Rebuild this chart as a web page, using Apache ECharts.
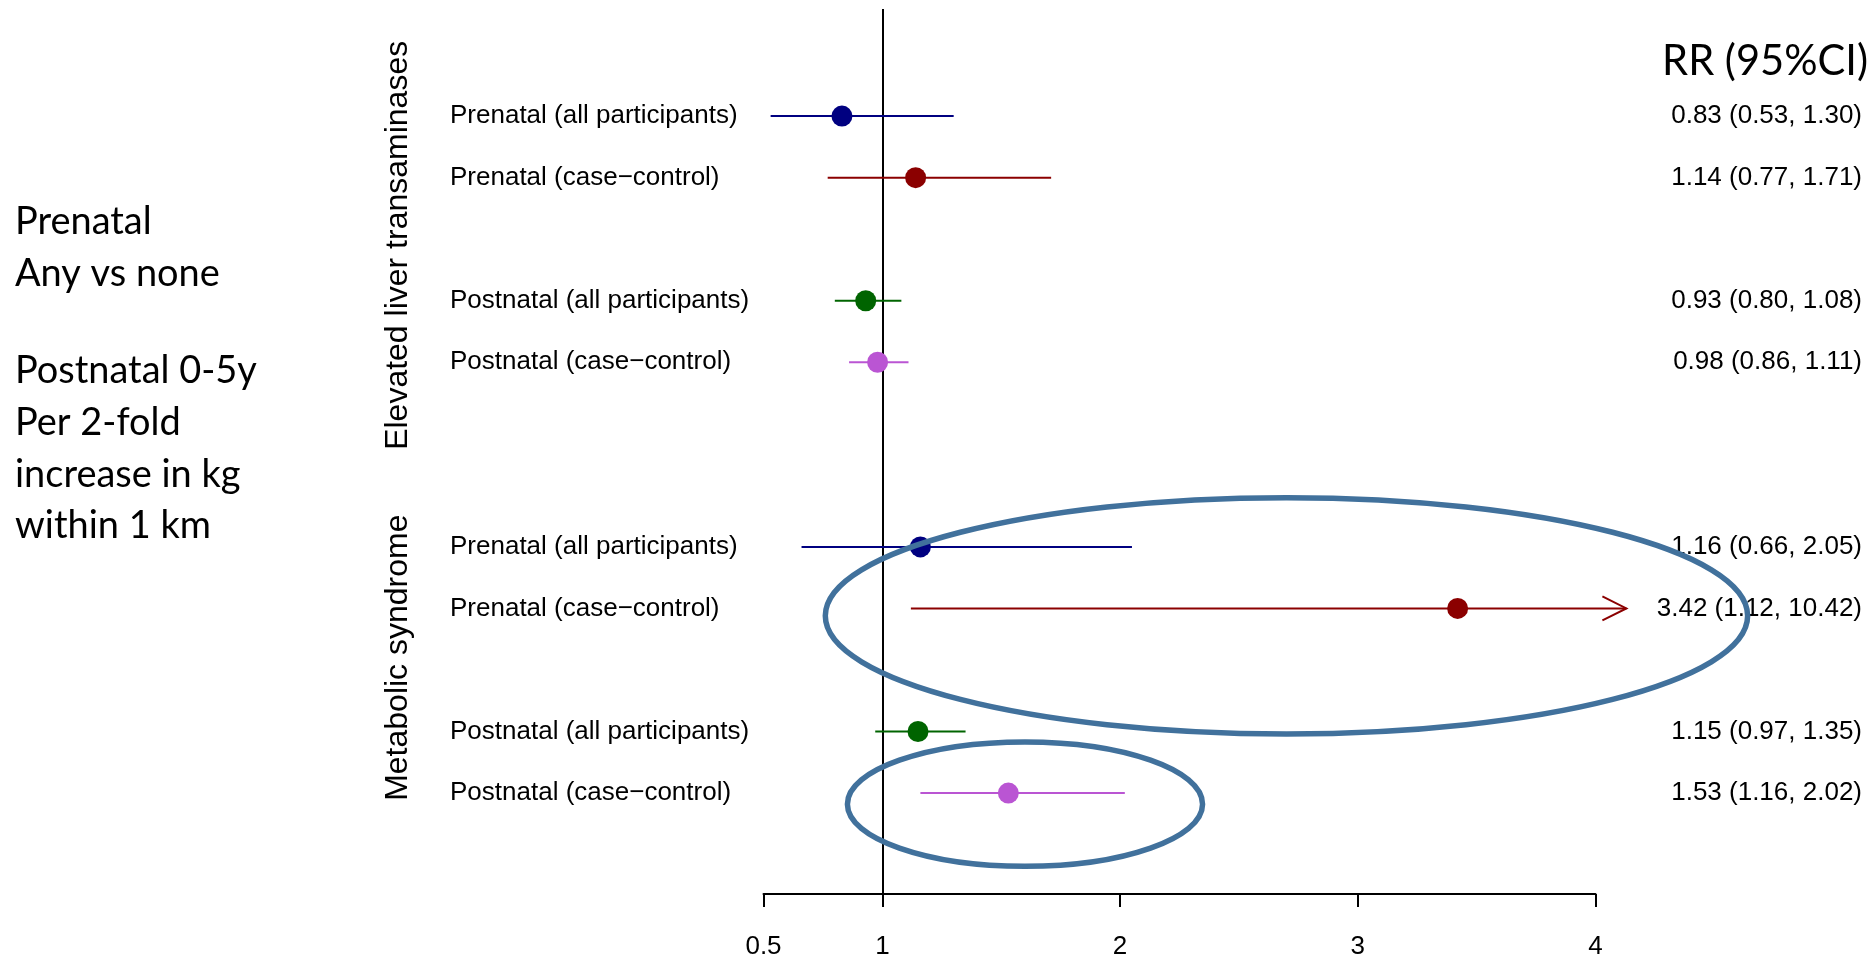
<!DOCTYPE html>
<html>
<head>
<meta charset="utf-8">
<script src="https://cdn.jsdelivr.net/npm/echarts@6/dist/echarts.min.js"></script>
<style>
html,body{margin:0;padding:0;background:#fff;}
#chart{width:1875px;height:962px;}
</style>
</head>
<body>
<div id="chart"></div>
<script>
// ---- data ----
const rowLabels = [
  'Prenatal (all participants)', 'Prenatal (case\u2212control)',
  'Postnatal (all participants)', 'Postnatal (case\u2212control)',
  'Prenatal (all participants)', 'Prenatal (case\u2212control)',
  'Postnatal (all participants)', 'Postnatal (case\u2212control)'
];
const rowSlots = [0, 1, 3, 4, 7, 8, 10, 11];
const rrValues = [0.83, 1.14, 0.93, 0.98, 1.16, 3.42, 1.15, 1.53];
const ciLower  = [0.53, 0.77, 0.80, 0.86, 0.66, 1.12, 0.97, 1.16];
const ciUpper  = [1.30, 1.71, 1.08, 1.11, 2.05, 10.42, 1.35, 2.02];
const groupLabels = ['Elevated liver transaminases', 'Metabolic syndrome'];
const groupCenters = [2.1, 8.8];           // in row-slot units
const xTicks = [0.5, 1, 2, 3, 4];
const xMin = 0.5, xMax = 4;
const ciClip = 4.13;                         // arrow end for CI beyond axis
const refValue = 1;
const headerText = 'RR (95%CI)';
const sideTextTop = ['Prenatal', 'Any vs none'];
const sideTextBottom = ['Postnatal 0-5y', 'Per 2-fold', 'increase in kg', 'within 1 km'];
// annotation ellipses in data units: [centerX, centerSlot, radiusX, radiusSlots]
const ellipses = [[2.70, 8.12, 1.94, 1.92], [1.60, 11.18, 0.747, 1.01]];

// ---- styles ----
const rowColors = ['#000080', '#8B0000', '#006400', '#BA55D3', '#000080', '#8B0000', '#006400', '#BA55D3'];
const ARIAL = "'Liberation Sans', Arial, sans-serif";
const CAL = "Lato, 'Open Sans', sans-serif";

function fitSize(text, family, target) {
  const c = document.createElement('canvas').getContext('2d');
  c.font = '100px ' + family;
  return 100 * target / c.measureText(text).width;
}
const sideSize = fitSize('Postnatal 0-5y', CAL, 242);
const headSize = fitSize(headerText, CAL, 206);

const chart = echarts.init(document.getElementById('chart'), null, {renderer: 'canvas'});

const seriesData = rrValues.map((v, i) => [v, rowSlots[i], ciLower[i], ciUpper[i], i]);
const fmt = v => v.toFixed(2);

function renderItem(params, api) {
  const i = api.value(4);
  const slot = api.value(1);
  const color = rowColors[i];
  const lo = Math.max(api.value(2), xMin);
  const clipped = api.value(3) > xMax;
  const hi = clipped ? ciClip : api.value(3);
  const p = api.coord([api.value(0), slot]);
  const pl = api.coord([lo, slot]);
  const ph = api.coord([hi, slot]);
  const children = [
    {type: 'line', shape: {x1: pl[0], y1: pl[1], x2: ph[0], y2: ph[1]}, style: {stroke: color, lineWidth: 2}},
    {type: 'circle', shape: {cx: p[0], cy: p[1], r: 10.5}, style: {fill: color}},
    {type: 'text', x: 450, y: p[1], style: {text: rowLabels[i], fontSize: 26, fontFamily: ARIAL, fill: '#000', align: 'left', verticalAlign: 'middle'}},
    {type: 'text', x: 1862, y: p[1], style: {text: fmt(rrValues[i]) + ' (' + fmt(ciLower[i]) + ', ' + fmt(ciUpper[i]) + ')', fontSize: 26, fontFamily: ARIAL, fill: '#000', align: 'right', verticalAlign: 'middle'}}
  ];
  if (clipped) {
    children.push({type: 'polyline', shape: {points: [[ph[0] - 24, ph[1] - 12], [ph[0], ph[1]], [ph[0] - 24, ph[1] + 12]]}, style: {stroke: color, lineWidth: 2, fill: null}});
  }
  return {type: 'group', children};
}

const option = {
  animation: false,
  grid: {left: 763.5, right: 279.5, top: 9, bottom: 68},
  xAxis: {
    type: 'value', min: xMin, max: xMax,
    axisLine: {show: true, onZero: false, lineStyle: {color: '#000', width: 2}},
    axisTick: {show: true, length: 13, lineStyle: {color: '#000', width: 2}, customValues: xTicks},
    axisLabel: {fontSize: 26, fontFamily: ARIAL, color: '#000', margin: 40, customValues: xTicks, formatter: v => String(v)},
    splitLine: {show: false}
  },
  yAxis: {type: 'value', inverse: true, min: -1.74, max: 12.64, show: false},
  series: [{
    type: 'line',
    data: [],
    z: 1,
    markLine: {
      silent: true, symbol: 'none', animation: false,
      label: {show: false},
      lineStyle: {color: '#000', width: 2, type: 'solid'},
      data: [{xAxis: refValue}]
    }
  }, {
    type: 'custom',
    z: 5,
    clip: false,
    renderItem,
    data: seriesData,
    encode: {x: 0, y: 1}
  }]
};
chart.setOption(option);

function buildGraphics() {
  const g = [];
  ellipses.forEach(e => {
    const c = chart.convertToPixel({gridIndex: 0}, [e[0], e[1]]);
    const ex = chart.convertToPixel({gridIndex: 0}, [e[0] + e[2], e[1] + e[3]]);
    g.push({type: 'ellipse', shape: {cx: c[0], cy: c[1], rx: Math.abs(ex[0] - c[0]), ry: Math.abs(ex[1] - c[1])},
      style: {fill: null, stroke: '#41719C', lineWidth: 5.5}, z: 10});
  });
  groupLabels.forEach((t, k) => {
    const y = chart.convertToPixel({gridIndex: 0}, [1, groupCenters[k]])[1];
    g.push({type: 'text', x: 398, y: y, rotation: Math.PI / 2,
      style: {text: t, fontSize: 32, fontFamily: ARIAL, fill: '#000', align: 'center', verticalAlign: 'middle'}});
  });
  g.push({type: 'text', x: 1868, y: 62, style: {text: headerText, fontSize: headSize, fontFamily: CAL, fill: '#000', align: 'right', verticalAlign: 'middle'}});
  sideTextTop.forEach((t, k) => g.push({type: 'text', x: 15, y: 222 + k * 52,
    style: {text: t, fontSize: sideSize, fontFamily: CAL, fill: '#000', align: 'left', verticalAlign: 'middle'}}));
  sideTextBottom.forEach((t, k) => g.push({type: 'text', x: 15, y: 371 + k * 51.7,
    style: {text: t, fontSize: sideSize, fontFamily: CAL, fill: '#000', align: 'left', verticalAlign: 'middle'}}));
  chart.setOption({graphic: g});
}
buildGraphics();
</script>
</body>
</html>
